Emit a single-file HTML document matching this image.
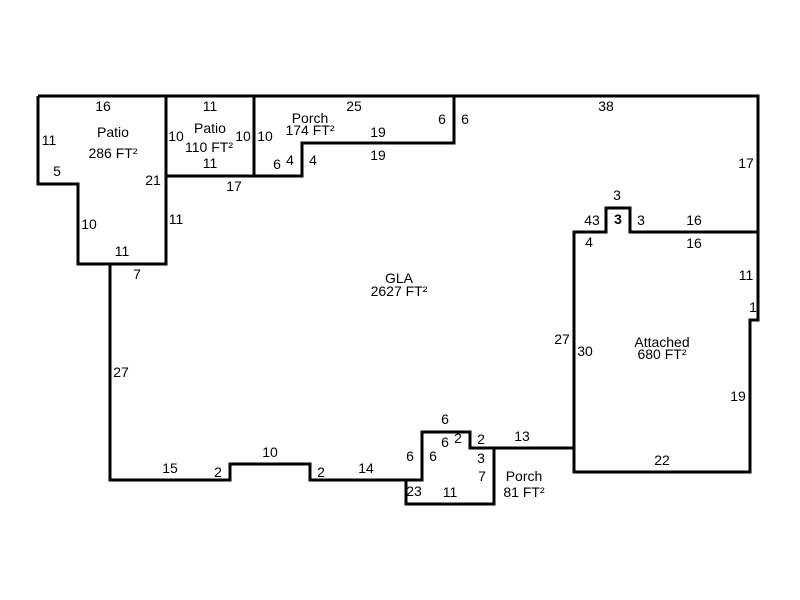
<!DOCTYPE html>
<html><head><style>body{margin:0;background:#fff}svg{display:block}text{font-family:"Liberation Sans",sans-serif;font-size:14px;fill:#000}</style></head><body>
<svg width="800" height="600" xmlns="http://www.w3.org/2000/svg">
<g fill="none" stroke="#000" stroke-width="3">
<path d="M38,96 H758 V232 M758,232 V320 H750 V472 H574 V232 H606 V208 H630 V232 H758"/>
<path d="M38,96 V184 H78 V264 H166 V96"/>
<path d="M166,176 H254 V96 M254,176 H302 V143 H454 V96"/>
<path d="M110,264 V480 H230 V464 H310 V480 H422 V432 H470 V448 H574"/>
<path d="M422,480 H406 V504 H494 V448"/>
</g>
<g text-anchor="middle">
<text x="103" y="111">16</text><text x="49" y="145">11</text><text x="113" y="137">Patio</text><text x="113" y="158">286 FT²</text>
<text x="57" y="176">5</text><text x="153" y="185">21</text><text x="89" y="229">10</text><text x="176" y="224">11</text><text x="122" y="256">11</text><text x="137" y="279">7</text>
<text x="210" y="111">11</text><text x="176" y="141">10</text><text x="210" y="133">Patio</text><text x="243" y="141">10</text><text x="209" y="152">110 FT²</text><text x="210" y="168">11</text><text x="234" y="191">17</text>
<text x="265" y="141">10</text><text x="310" y="123">Porch</text><text x="310" y="135">174 FT²</text><text x="354" y="111">25</text><text x="442" y="124">6</text><text x="465" y="124">6</text>
<text x="378" y="137">19</text><text x="378" y="160">19</text><text x="277" y="169">6</text><text x="290" y="165">4</text><text x="313" y="165">4</text>
<text x="606" y="111">38</text><text x="746" y="168">17</text>
<text x="399" y="283">GLA</text><text x="399" y="296">2627 FT²</text>
<text x="617" y="200">3</text><text x="592" y="225">43</text><text x="618" y="224" font-weight="bold">3</text><text x="641" y="225">3</text><text x="694" y="225">16</text><text x="694" y="248">16</text><text x="589" y="247">4</text>
<text x="746" y="280">11</text><text x="753" y="312">1</text><text x="562" y="344">27</text><text x="585" y="356">30</text>
<text x="662" y="347">Attached</text><text x="662" y="359">680 FT²</text><text x="738" y="401">19</text><text x="662" y="465">22</text>
<text x="121" y="377">27</text><text x="170" y="473">15</text><text x="218" y="477">2</text><text x="270" y="457">10</text><text x="321" y="477">2</text><text x="366" y="473">14</text>
<text x="445" y="424">6</text><text x="410" y="461">6</text><text x="433" y="461">6</text><text x="445" y="447">6</text><text x="458" y="443">2</text><text x="481" y="444">2</text><text x="522" y="441">13</text>
<text x="481" y="463">3</text><text x="482" y="481">7</text><text x="524" y="481">Porch</text><text x="524" y="497">81 FT²</text><text x="414" y="496">23</text><text x="450" y="497">11</text>
</g>
</svg>
</body></html>
